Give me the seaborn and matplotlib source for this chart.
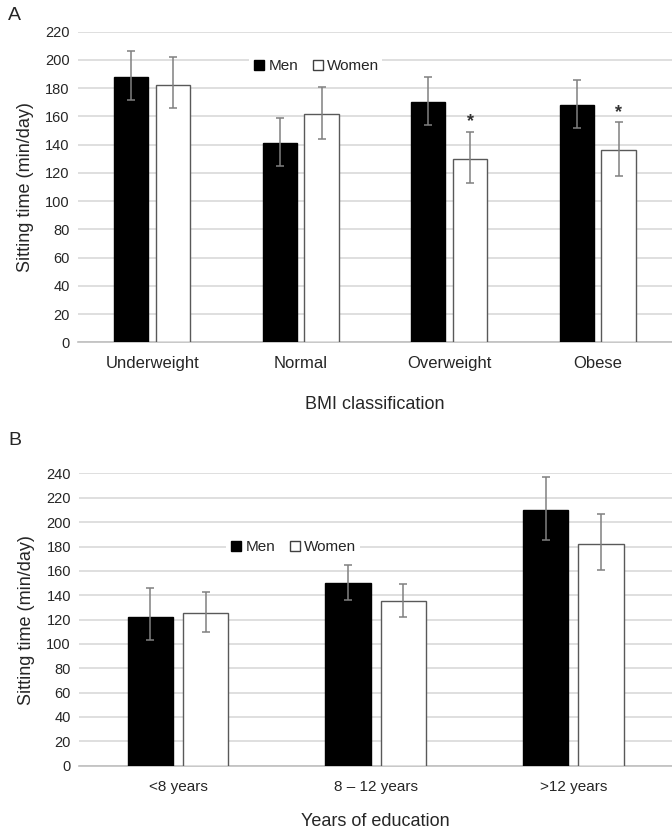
import matplotlib
matplotlib.use("Agg")
import matplotlib.pyplot as plt
from matplotlib.lines import Line2D
import seaborn as sns
import pandas as pd
import numpy as np

# panel A - BMI
bmi_cats = ["Underweight", "Normal", "Overweight", "Obese"]
bmi_men = [188, 141, 170, 168]
bmi_men_lo = [172, 125, 154, 152]
bmi_men_hi = [206, 159, 188, 186]
bmi_women = [182, 162, 130, 136]
bmi_women_lo = [166, 144, 113, 118]
bmi_women_hi = [202, 181, 149, 156]
bmi_sig = [False, False, True, True]

# panel B - education
edu_cats = ["<8 years", "8 \u2013 12 years", ">12 years"]
edu_men = [122, 150, 210]
edu_men_lo = [103, 136, 185]
edu_men_hi = [146, 165, 237]
edu_women = [125, 135, 182]
edu_women_lo = [110, 122, 161]
edu_women_hi = [143, 149, 207]
edu_sig = [False, False, False]

sns.set_style("white")
plt.rcParams["font.family"] = ["Liberation Sans", "DejaVu Sans"]

GRID = "#d9d9d9"
ERR = "#808080"


def panel(ax, cats, men, men_lo, men_hi, women, women_lo, women_hi, sig,
          ymax, xlabel, tick_fs, leg_pos, xlab_pad):
    df = pd.DataFrame({
        "cat": cats * 2,
        "sex": ["Men"] * len(cats) + ["Women"] * len(cats),
        "val": men + women,
    })
    sns.barplot(data=df, x="cat", y="val", hue="sex",
                palette={"Men": "black", "Women": "white"},
                width=0.56, gap=0.18, errorbar=None, legend=False,
                zorder=3, ax=ax)
    lows = [men_lo, women_lo]
    highs = [men_hi, women_hi]
    edges = ["black", "#595959"]
    bar_conts = list(ax.containers)
    for k, cont in enumerate(bar_conts):
        xs, hs = [], []
        for p in cont.patches:
            p.set_edgecolor(edges[k])
            p.set_linewidth(1.0)
            xs.append(p.get_x() + p.get_width() / 2)
            hs.append(p.get_height())
        hs = np.array(hs)
        lo = hs - np.array(lows[k])
        hi = np.array(highs[k]) - hs
        ax.errorbar(xs, hs, yerr=[lo, hi], fmt="none", ecolor=ERR,
                    elinewidth=1.1, capsize=3, capthick=1.1, zorder=4)
        if k == 1:
            for x, h, s in zip(xs, highs[k], sig):
                if s:
                    ax.text(x, h + 1, "*", ha="center", va="bottom",
                            fontsize=13, fontweight="bold", color="#333333")

    ax.set_ylim(0, ymax)
    ax.set_xlim(-0.5, len(cats) - 0.5)
    ax.set_yticks(np.arange(0, ymax + 1, 20))
    ax.yaxis.grid(True, color=GRID, linewidth=1.2, zorder=0)
    ax.set_axisbelow(True)
    for s in ["top", "right", "left"]:
        ax.spines[s].set_visible(False)
    ax.spines["bottom"].set_color("#bfbfbf")
    ax.spines["bottom"].set_linewidth(1.2)
    ax.tick_params(axis="both", length=0)
    ax.tick_params(axis="y", labelsize=10.5, pad=6)
    ax.tick_params(axis="x", labelsize=tick_fs, pad=10)
    ax.set_ylabel("Sitting time (min/day)", fontsize=13, labelpad=8)
    ax.set_xlabel(xlabel, fontsize=13, labelpad=xlab_pad)

    handles = [
        Line2D([], [], marker="s", linestyle="none", markersize=7.5,
               markerfacecolor="black", markeredgecolor="black"),
        Line2D([], [], marker="s", linestyle="none", markersize=7.5,
               markerfacecolor="white", markeredgecolor="#404040"),
    ]
    leg = ax.legend(handles, ["Men", "Women"], ncol=2, loc="center",
                    bbox_to_anchor=leg_pos, frameon=True, fontsize=11,
                    handletextpad=0.1, columnspacing=0.8, handlelength=1.0,
                    borderpad=0.2, framealpha=1)
    leg.get_frame().set_edgecolor("none")
    leg.get_frame().set_facecolor("white")
    leg.set_zorder(5)


fig = plt.figure(figsize=(6.72, 8.35), dpi=100)
ax_a = fig.add_axes([0.116, 0.590, 0.884, 0.372])
ax_b = fig.add_axes([0.118, 0.083, 0.882, 0.350])

panel(ax_a, bmi_cats, bmi_men, bmi_men_lo, bmi_men_hi, bmi_women,
      bmi_women_lo, bmi_women_hi, bmi_sig, 220, "BMI classification", 12,
      (0.40, 0.89), 18)
panel(ax_b, edu_cats, edu_men, edu_men_lo, edu_men_hi, edu_women,
      edu_women_lo, edu_women_hi, edu_sig, 240, "Years of education", 11,
      (0.36, 0.748), 14)

fig.text(0.012, 0.982, "A", fontsize=14, va="center")
fig.text(0.012, 0.473, "B", fontsize=14, va="center")

fig.savefig("out.png", dpi=100, facecolor="white")
